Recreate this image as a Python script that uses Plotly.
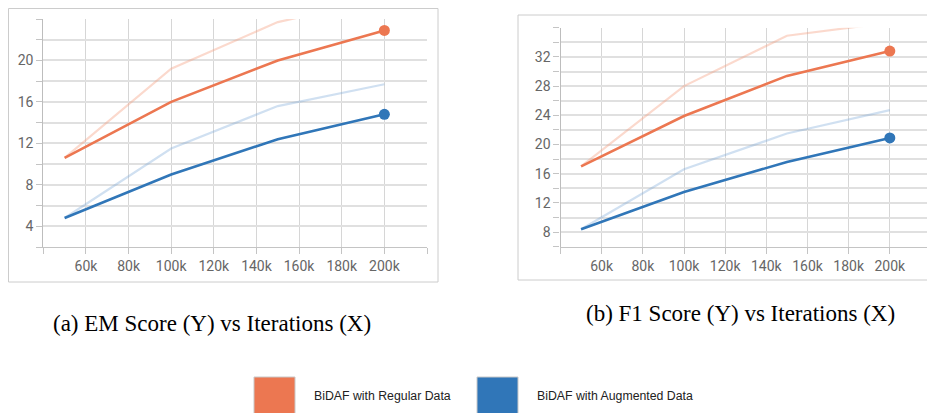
import plotly.graph_objects as go

W, H = 935, 413
OFF = 8  # default page body margin

iterations = [50000, 100000, 150000, 200000]

em_regular = [10.6, 16.0, 20.0, 22.9]
em_regular_raw = [10.6, 19.2, 23.7, 26.0]
em_augmented = [4.8, 9.0, 12.4, 14.8]
em_augmented_raw = [4.8, 11.5, 15.6, 17.7]

f1_regular = [17.0, 23.9, 29.4, 32.8]
f1_regular_raw = [17.0, 28.0, 34.9, 36.7]
f1_augmented = [8.4, 13.5, 17.6, 20.9]
f1_augmented_raw = [8.4, 16.6, 21.5, 24.7]

x_tick_vals = [40000, 60000, 80000, 100000, 120000, 140000, 160000, 180000, 200000, 220000]
x_tick_text = ["", "60k", "80k", "100k", "120k", "140k", "160k", "180k", "200k", ""]

em_tick_vals = list(range(2, 25, 2))
em_tick_text = [str(v) if (v % 4 == 0 and 4 <= v <= 20) else "" for v in em_tick_vals]
f1_tick_vals = list(range(6, 37, 2))
f1_tick_text = [str(v) if (v % 4 == 0 and 8 <= v <= 32) else "" for v in f1_tick_vals]

legend_labels = ["BiDAF with Regular Data", "BiDAF with Augmented Data"]
captions = ["(a) EM Score (Y) vs Iterations (X)", "(b) F1 Score (Y) vs Iterations (X)"]

ORANGE = "#EC7751"
BLUE = "#3076B8"
ORANGE_LIGHT = "rgba(246,160,130,0.40)"
BLUE_LIGHT = "rgba(120,165,215,0.35)"


def px(x):
    return (x - OFF) / W


def py(y):
    return 1 - (y - OFF) / H


fig = go.Figure()


def add_panel(xa, ya, reg, reg_raw, aug, aug_raw):
    for vals, col in [(reg_raw, ORANGE_LIGHT), (aug_raw, BLUE_LIGHT)]:
        fig.add_trace(go.Scatter(x=iterations, y=vals, mode="lines",
                                 line=dict(color=col, width=2.2),
                                 xaxis=xa, yaxis=ya, showlegend=False, hoverinfo="skip"))
    for vals, col in [(reg, ORANGE), (aug, BLUE)]:
        fig.add_trace(go.Scatter(x=iterations, y=vals, mode="lines",
                                 line=dict(color=col, width=2.6),
                                 xaxis=xa, yaxis=ya, showlegend=False))
        fig.add_trace(go.Scatter(x=iterations[-1:], y=vals[-1:], mode="markers",
                                 marker=dict(color=col, size=11),
                                 xaxis=xa, yaxis=ya, showlegend=False, cliponaxis=False))


add_panel("x", "y", em_regular, em_regular_raw, em_augmented, em_augmented_raw)
add_panel("x2", "y2", f1_regular, f1_regular_raw, f1_augmented, f1_augmented_raw)

tickfont = dict(family="Roboto", size=14, color="#666666")

xcommon = dict(range=[40000, 220000], tickvals=x_tick_vals, ticktext=x_tick_text,
               showgrid=True, gridcolor="#d6d6d6", gridwidth=1.2,
               showline=True, linecolor="#c4c4c4", linewidth=1.2,
               ticks="outside", ticklen=6, tickcolor="#c4c4c4",
               tickfont=tickfont, zeroline=False, fixedrange=True)
ycommon = dict(showgrid=True, gridcolor="#e0e0e0", gridwidth=1.6,
               showline=True, linecolor="#bdbdbd", linewidth=1.2,
               ticks="outside", ticklen=6, tickcolor="#c4c4c4",
               tickfont=tickfont, zeroline=False, fixedrange=True)

fig.update_layout(
    width=W, height=H,
    margin=dict(l=0, r=0, t=0, b=0),
    paper_bgcolor="white", plot_bgcolor="white",
    showlegend=False,
    xaxis=dict(domain=[px(43.3), px(427)], anchor="y", **xcommon),
    yaxis=dict(domain=[py(247), py(19)], anchor="x", range=[2, 24],
               tickvals=em_tick_vals, ticktext=em_tick_text, **ycommon),
    xaxis2=dict(domain=[px(560.5), px(931)], anchor="y2", **xcommon),
    yaxis2=dict(domain=[py(246.7), py(27.7)], anchor="x2", range=[6, 36],
                tickvals=f1_tick_vals, ticktext=f1_tick_text, **ycommon),
)

# panel frames
fig.add_shape(type="rect", xref="paper", yref="paper",
              x0=px(8.5), x1=px(438), y0=py(282), y1=py(8.5),
              line=dict(color="#cccccc", width=1), layer="below")
fig.add_shape(type="rect", xref="paper", yref="paper",
              x0=px(518), x1=px(950), y0=py(280), y1=py(15),
              line=dict(color="#cccccc", width=1), layer="below")

# captions
fig.add_annotation(text=captions[0], xref="paper", yref="paper", x=px(212), y=py(323),
                   xanchor="center", yanchor="middle", showarrow=False,
                   font=dict(family="Liberation Serif", size=23, color="black"))
fig.add_annotation(text=captions[1], xref="paper", yref="paper", x=px(740), y=py(313),
                   xanchor="center", yanchor="middle", showarrow=False,
                   font=dict(family="Liberation Serif", size=23, color="black"))

# legend swatches and labels
for x0, col, label, tx in [(254, ORANGE, legend_labels[0], 312), (477, BLUE, legend_labels[1], 535)]:
    fig.add_shape(type="rect", xref="paper", yref="paper",
                  x0=px(x0), x1=px(x0 + 41), y0=py(425), y1=py(377),
                  fillcolor=col, line=dict(color="#c8c8c8", width=1))
    fig.add_annotation(text=label, xref="paper", yref="paper", x=px(tx), y=py(396),
                       xanchor="left", yanchor="middle", showarrow=False,
                       font=dict(family="Liberation Sans", size=12.3, color="#222222"))

fig.write_html("out.html")
